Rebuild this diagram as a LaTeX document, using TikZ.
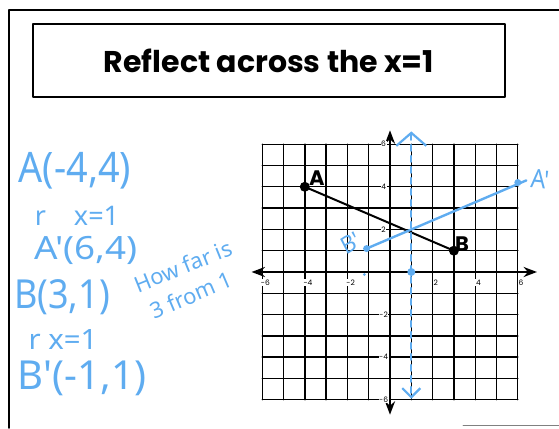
\documentclass[tikz,border=0pt]{standalone}
\usepackage{fontspec}
\setmainfont{Poppins}
\newfontfamily\handfont{Noto Sans}
\usetikzlibrary{arrows.meta}
\definecolor{pen}{RGB}{95,172,240}
\tikzset{
  hand/.style={text=pen, font=\handfont\fontsize{#1}{#1}\selectfont, inner sep=0pt},
  hand/.default=22,
  tick/.style={fill=white, inner sep=0.6pt, font=\fontsize{7.5}{7.5}\selectfont}
}
\begin{document}
\begin{tikzpicture}[x=1pt, y=1pt, line join=round, line cap=round, >=Stealth]
\useasboundingbox (0,0) rectangle (559,428);
% frame and title
\draw[line width=1.6] (9,0)--(9,418)--(559,418);
\draw[gray, line width=0.8] (463,3)--(559,3);
\node[draw, line width=1.4, minimum width=472pt, minimum height=73pt, inner sep=0pt,
  font=\bfseries\fontsize{30}{30}\selectfont] (title) at (269,367.5) {Reflect across the x=1};
% the graph
\begin{scope}[shift={(390,156)}, x=21.3pt, y=21.3pt]
  \draw[line width=1.4, step={(1,1)}] (-6,-6) grid (6,6);
  \draw[line width=2.3, <->] (-6.5,0) coordinate (xl) -- (6.9,0) coordinate (xr);
  \draw[line width=2.3, <->] (0,-6.7) coordinate (yb) -- (0,6.65) coordinate (yt);
  \foreach \t in {-6,-4,-2,2,4,6}{
    \node[tick] at (\t+0.15,-0.5) {\t};
    \node[tick] at (-0.3,\t) {\t};
  }
  \path (-4,4) coordinate (A)
        (3,1) coordinate (B)
        (6,4.2) coordinate (A')
        (-1.1,1.1) coordinate (B')
        (1,0) coordinate (M)
        (1,6.6) coordinate (Lt)
        (1,-5.95) coordinate (Lb);
  \draw[line width=2] (A)--(B);
  \foreach \p in {A,B}{\fill (\p) circle (5pt);}
  \node[font=\bfseries\fontsize{21}{21}\selectfont] at (-3.43,4.4) {A};
  \node[font=\bfseries\fontsize{21}{21}\selectfont] at (3.38,1.3) {B};
  % the student's work
  \draw[pen, line width=2.4] (B')--(6.4,4.3);
  \draw[pen, line width=2, dash pattern=on 6pt off 5pt,
    arrows={Straight Barb[length=13pt,width=30pt,line width=2.2pt]-Straight Barb[length=9pt,width=18pt,line width=2.2pt]}] (Lt)--(Lb);
  \foreach \p/\r in {A'/3.5pt,B'/3.5pt,M/4pt}{\fill[pen] (\p) circle (\r);}
  \fill[pen] (-1.2,-0.12) circle (1.5pt);
  \node[hand=26, xscale=0.9, rotate=-5] at (7.05,4.35) {A'};
  \node[hand=24, xscale=0.9, rotate=30] at (-1.85,1.35) {B'};
\end{scope}
% notes on the left
\node[hand=42, xscale=0.9] (n1) at (75,257) {A(-4,4)};
\node[hand=27] (n2) at (77,212) {r\hspace{28pt}x=1};
\node[hand=32, xscale=1.15] (n3) at (86,178) {A'(6,4)};
\node[hand=40, xscale=0.9] (n4) at (62,131) {B(3,1)};
\node[hand=28, xscale=1.05] (n5) at (63,88) {r x=1};
\node[hand=40] (n6) at (82,50) {B'(-1,1)};
\node[hand=22, rotate=22] (n7) at (183,162) {How far is};
\node[hand=22, rotate=23] (n8) at (191,133) {3 from 1};
\end{tikzpicture}
\end{document}
